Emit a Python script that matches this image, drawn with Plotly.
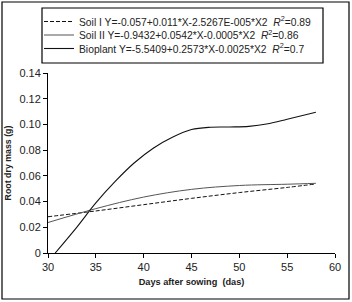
import plotly.graph_objects as go

# ---- data ----
soil1_x = [30, 35, 40, 45, 50, 55, 58]
soil1_y = [0.0282, 0.0327, 0.0376, 0.0425, 0.0470, 0.0510, 0.0537]

soil2_x = [30, 35, 40, 45, 50, 55, 58]
soil2_y = [0.0237, 0.0345, 0.0435, 0.0495, 0.0525, 0.0535, 0.0542]

bio_x = [30.75, 33, 35, 37, 39, 41, 43, 45, 47, 49, 51, 53, 55, 58]
bio_y = [0.0, 0.020, 0.039, 0.0555, 0.0700, 0.0815, 0.0900, 0.0960, 0.0978, 0.0980, 0.0985, 0.1005, 0.1040, 0.1095]

names = [
    "Soil I Y=-0.057+0.011*X-2.5267E-005*X2  <i>R</i><sup>2</sup>=0.89",
    "Soil II Y=-0.9432+0.0542*X-0.0005*X2  <i>R</i><sup>2</sup>=0.86",
    "Bioplant Y=-5.5409+0.2573*X-0.0025*X2  <i>R</i><sup>2</sup>=0.7",
]

y_ticks = [0, 0.02, 0.04, 0.06, 0.08, 0.10, 0.12, 0.14]
y_ticktext = ["0", "0.02", "0.04", "0.06", "0.08", "0.10", "0.12", "0.14"]
x_ticks = [30, 35, 40, 45, 50, 55, 60]

FONT = "Liberation Sans, Arial, sans-serif"
TXT = "#222222"

W, H = 352, 302
L, R, T, B = 48, 17, 73, 49
pw, ph = W - L - R, H - T - B

def px(x):
    return (x - L) / pw

def py(y):
    return (H - B - y) / ph

fig = go.Figure()
fig.add_trace(go.Scatter(x=soil1_x, y=soil1_y, mode="lines", name=names[0], legend="legend",
                         line=dict(color="#111111", width=1, dash="4px,2px", shape="spline")))
fig.add_trace(go.Scatter(x=soil2_x, y=soil2_y, mode="lines", name=names[1], legend="legend2",
                         line=dict(color="#555555", width=1, shape="spline")))
fig.add_trace(go.Scatter(x=bio_x, y=bio_y, mode="lines", name=names[2], legend="legend3",
                         line=dict(color="#111111", width=1.1, shape="spline")))

leg_font = dict(family=FONT, size=10.3, color=TXT)
row_y = [21.5, 35, 48.5]
leg_x = 39

def legend_at(yrow):
    return dict(x=px(leg_x), y=py(yrow), xanchor="left", yanchor="middle",
                bgcolor="rgba(0,0,0,0)", borderwidth=0, font=leg_font, itemwidth=30)

fig.update_layout(
    width=W, height=H,
    margin=dict(l=L, r=R, t=T, b=B, autoexpand=False),
    paper_bgcolor="white", plot_bgcolor="white",
    font=dict(family=FONT, color=TXT, size=11),
    showlegend=True,
    legend=legend_at(row_y[0]),
    legend2=legend_at(row_y[1]),
    legend3=legend_at(row_y[2]),
    xaxis=dict(range=[30, 60], tickvals=x_ticks, showgrid=False, zeroline=False,
               showline=True, linecolor="black", linewidth=1,
               ticks="outside", ticklen=4, tickcolor="black",
               tickfont=dict(size=11, family=FONT, color=TXT),
               title=dict(text="<b>Days after sowing  (das)</b>", standoff=6,
                          font=dict(size=9.2, family=FONT, color=TXT))),
    yaxis=dict(range=[0, 0.14], tickvals=y_ticks, ticktext=y_ticktext,
               showgrid=False, zeroline=False,
               showline=True, linecolor="black", linewidth=1,
               ticks="outside", ticklen=4, tickcolor="black",
               tickfont=dict(size=11, family=FONT, color=TXT),
               title=dict(text="<b>Root dry mass (g)</b>", standoff=6,
                          font=dict(size=8.8, family=FONT, color=TXT))),
    shapes=[
        dict(type="rect", xref="paper", yref="paper",
             x0=px(2), x1=px(349), y0=py(299), y1=py(2),
             line=dict(color="black", width=1.2), fillcolor="rgba(0,0,0,0)", layer="above"),
        dict(type="rect", xref="paper", yref="paper",
             x0=px(42), x1=px(323), y0=py(63), y1=py(8),
             line=dict(color="black", width=1.2), fillcolor="rgba(0,0,0,0)", layer="above"),
    ],
)

fig.write_html("out.html",
               config={"displayModeBar": False, "staticPlot": True},
               post_script="document.body.style.margin='0';document.body.style.overflow='hidden';")
